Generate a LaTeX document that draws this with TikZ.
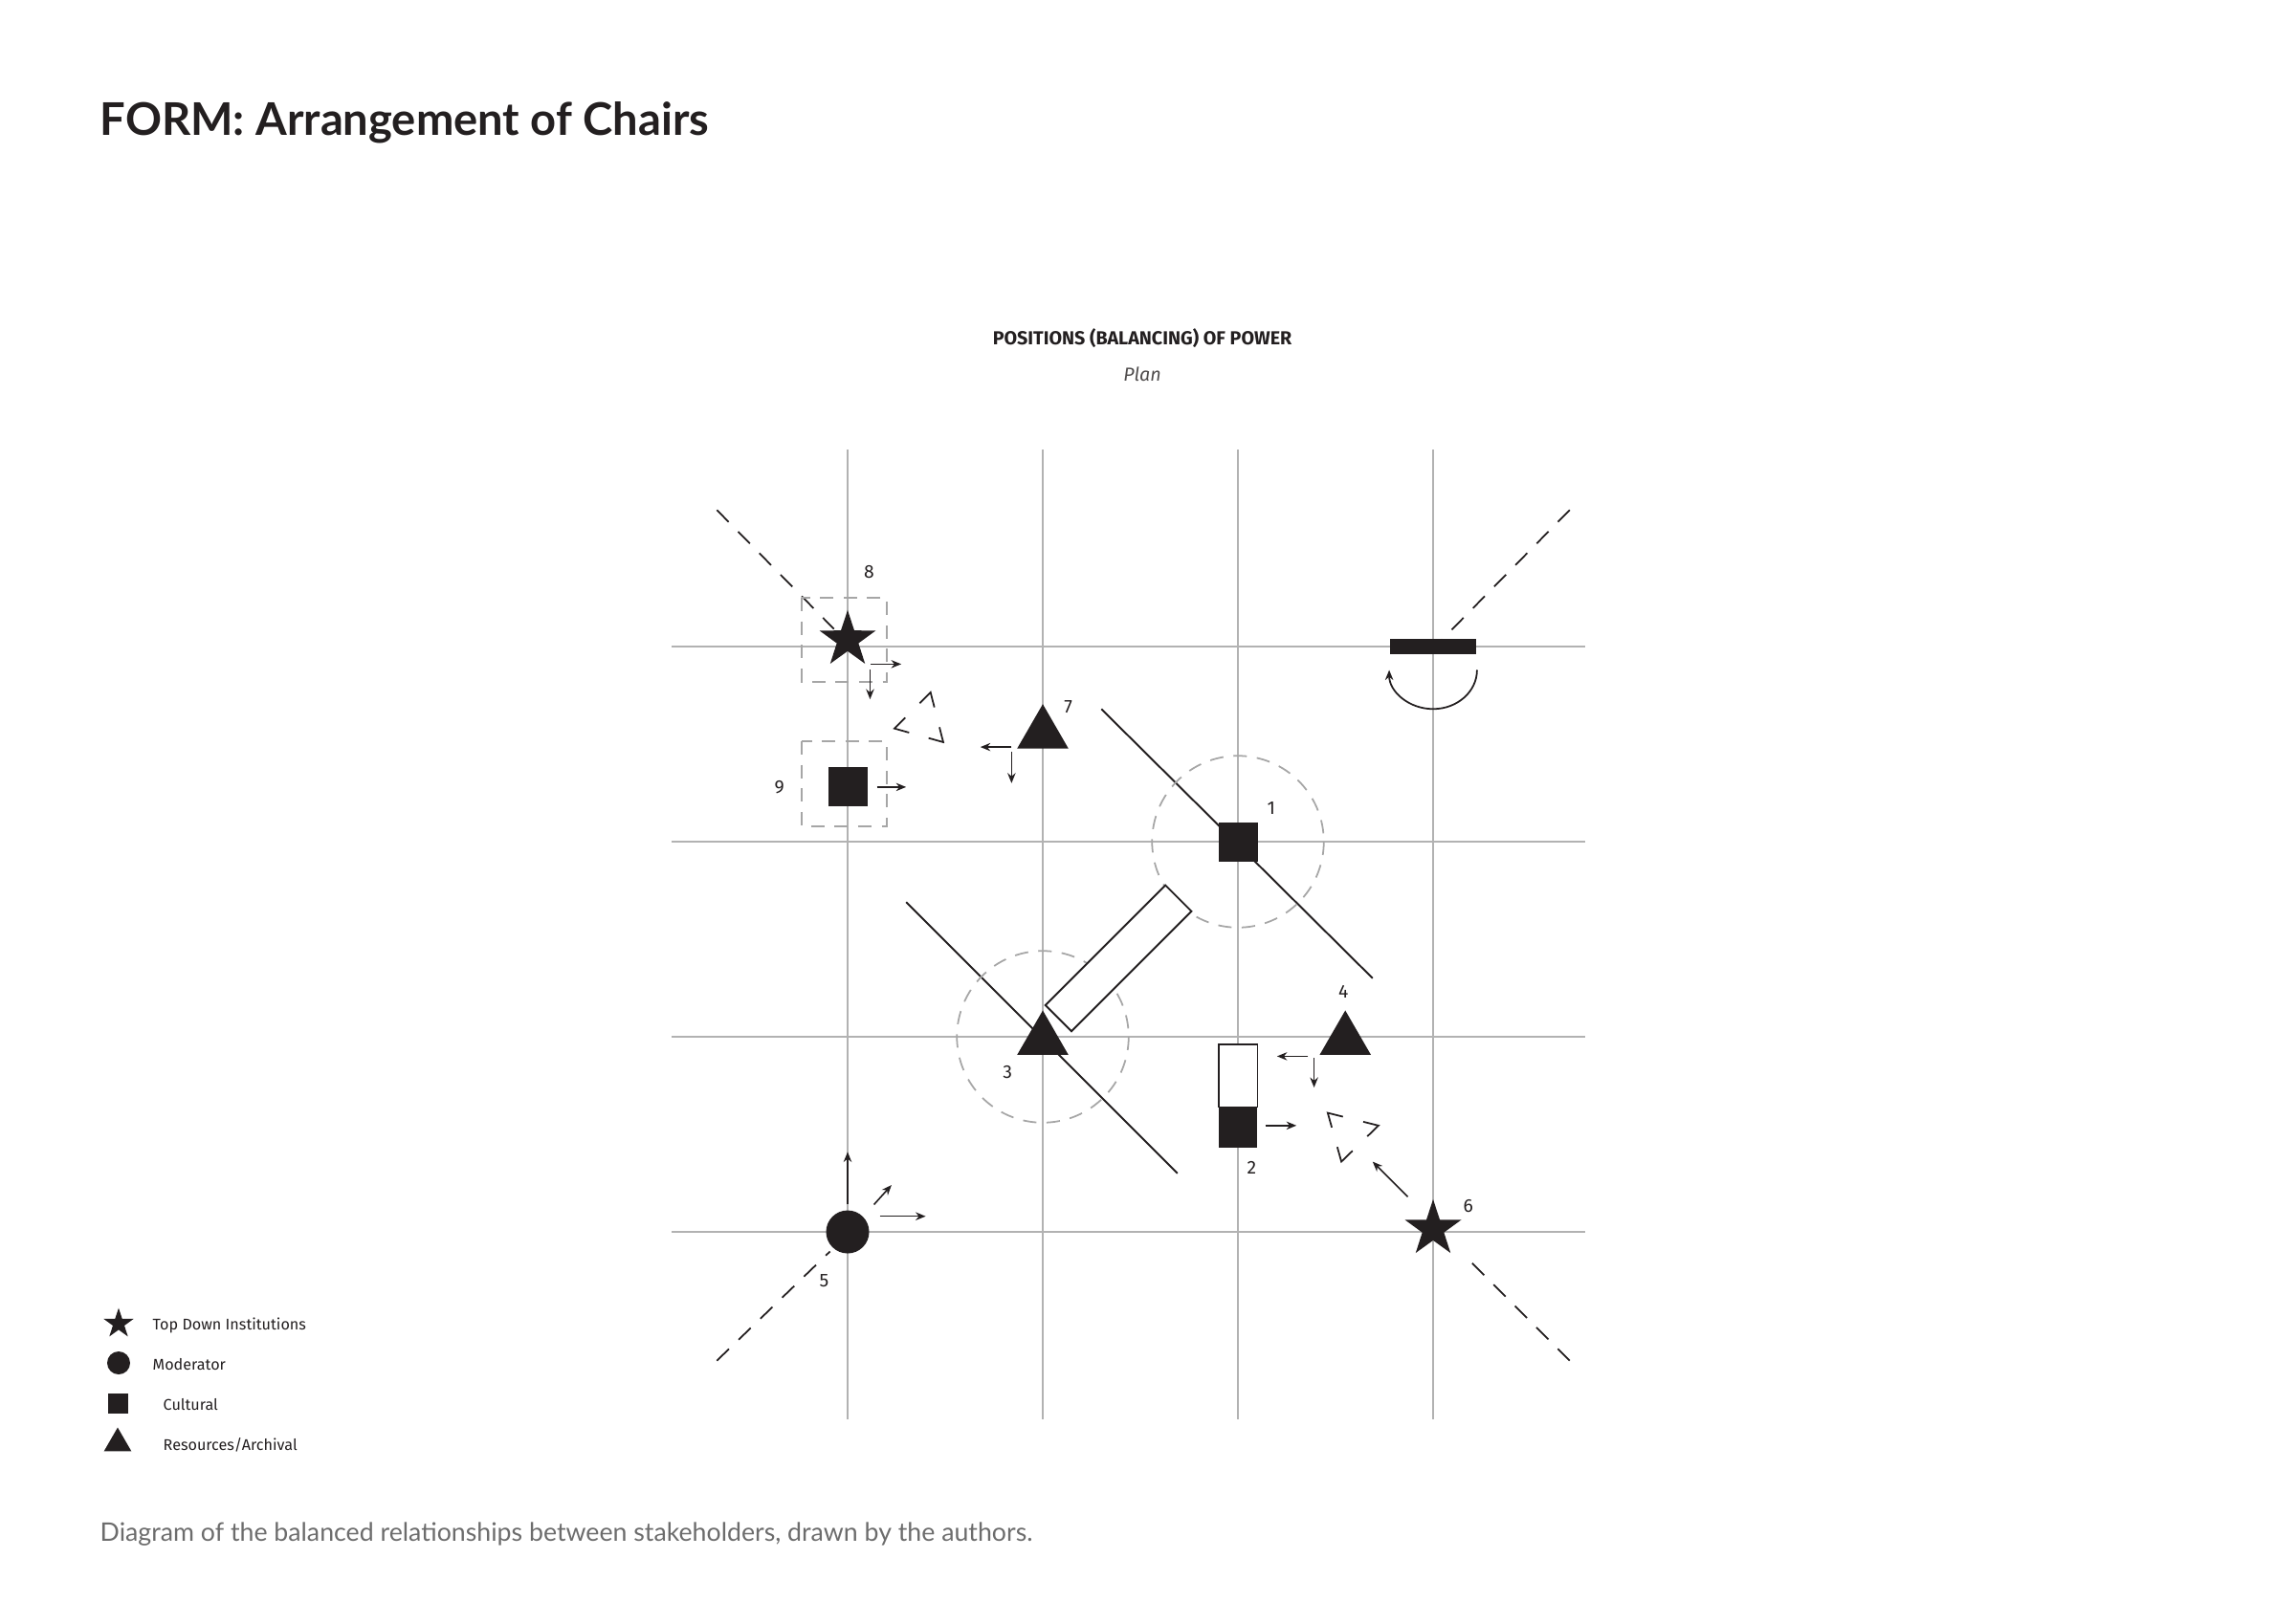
\documentclass[tikz,border=0pt]{standalone}
\usepackage{fontspec}
\setmainfont{Fira Sans}
\newfontfamily\titlefont{Lato}
\usetikzlibrary{shapes.geometric,calc,arrows.meta}
\definecolor{ink}{HTML}{231F20}
\tikzset{
  gridline/.style={draw=gray!60,line width=0.45pt},
  diag/.style={draw=ink,line width=0.5pt,dash pattern=on 5pt off 4pt},
  thinline/.style={draw=ink,line width=0.55pt},
  arr/.style={draw=ink,line width=0.45pt,-{Stealth[length=3pt,width=2.4pt]}},
  dbox/.style={draw=gray!70,line width=0.5pt,dash pattern=on 4pt off 3pt},
  dcirc/.style={draw=gray!70,line width=0.5pt,dash pattern=on 4pt off 3pt},
  starmark/.style={star,star points=5,star point ratio=2.6,fill=ink,inner sep=0,minimum size=0.62cm},
  trimark/.style={regular polygon,regular polygon sides=3,fill=ink,inner sep=0,minimum size=0.62cm},
  sqmark/.style={rectangle,fill=ink,inner sep=0,minimum size=0.41cm},
  num/.style={font=\fontsize{5.5}{6}\selectfont,text=ink,inner sep=0},
  legtext/.style={font=\fontsize{4.6}{5}\selectfont,text=ink,anchor=west,inner sep=0},
}
\newcommand{\chev}[3]{\draw[ink,line width=0.5pt] ($(#1)!0.3!(#2)$) -- (#1) -- ($(#1)!0.3!(#3)$);}
\begin{document}
\begin{tikzpicture}
\useasboundingbox (0,0) rectangle (24,-16.97);
\node[anchor=west,inner sep=0,text=ink] (title) at (1.04,-1.28) {\titlefont\bfseries\fontsize{13.4}{15}\selectfont FORM: Arrangement of Chairs};
\node[inner sep=0,text=ink] (sub) at (11.94,-3.54) {\bfseries\fontsize{5.6}{6}\selectfont POSITIONS (BALANCING) OF POWER};
\node[inner sep=0,text=ink!80] (plan) at (11.94,-3.91) {\itshape\fontsize{5.6}{6}\selectfont Plan};
\node[anchor=west,inner sep=0,text=gray!85!black] (cap) at (1.04,-16.04) {\titlefont\fontsize{7.6}{9}\selectfont Diagram of the balanced relationships between stakeholders, drawn by the authors.};
% legend
\node[star,star points=5,star point ratio=2.6,fill=ink,inner sep=0,minimum size=0.33cm] (l1) at (1.24,-13.84) {};
\node[circle,fill=ink,inner sep=0,minimum size=0.24cm] (l2) at (1.24,-14.25) {};
\node[rectangle,fill=ink,inner sep=0,minimum size=0.21cm] (l3) at (1.23,-14.67) {};
\node[regular polygon,regular polygon sides=3,fill=ink,inner sep=0,minimum size=0.33cm] (l4) at (1.23,-15.09) {};
\node[legtext] (t1) at (1.59,-13.86) {Top Down Institutions};
\node[legtext] (t2) at (1.59,-14.27) {Moderator};
\node[legtext] (t3) at (1.70,-14.69) {Cultural};
\node[legtext] (t4) at (1.70,-15.11) {Resources/Archival};
\begin{scope}[shift={(8.86cm,-6.76cm)},x=2.04cm,y=-2.04cm]
% grid
\foreach \i in {0,1,2,3}{
  \draw[gridline] (\i,-1.01) -- (\i,3.96);
  \draw[gridline] (-0.9,\i) -- (3.78,\i);
}
% dashed diagonals
\draw[diag] (-0.67,-0.70) -- (-0.07,-0.09);
\draw[diag] (3.70,-0.70) -- (3.04,-0.03);
\draw[diag] (-0.67,3.66) -- (-0.09,3.1);
\draw[diag] (3.70,3.66) -- (3.16,3.12);
% long solid lines
\draw[thinline] (1.30,0.32) -- (2.69,1.70);
\draw[thinline] (0.30,1.31) -- (1.69,2.70);
% dashed circles & boxes
\draw[dcirc] (2,1) circle (0.44);
\draw[dcirc] (1,2) circle (0.44);
\draw[dbox] (-0.235,-0.25) rectangle (0.2,0.18);
\draw[dbox] (-0.235,0.485) rectangle (0.2,0.92);
% 8 star
\node[starmark] (s8) at (0,-0.035) {};
\node[num] (n8) at (0.11,-0.38) {8};
\draw[arr] (0.12,0.09) -- (0.275,0.09);
\draw[arr] (0.115,0.12) -- (0.115,0.27);
% chevron triangle A
\coordinate (a1) at (0.425,0.235);
\coordinate (a2) at (0.24,0.42);
\coordinate (a3) at (0.49,0.49);
\chev{a1}{a2}{a3}\chev{a2}{a1}{a3}\chev{a3}{a1}{a2}
% 9 square
\node[sqmark] (q9) at (0,0.72) {};
\node[num] (n9) at (-0.35,0.72) {9};
\draw[arr] (0.15,0.72) -- (0.30,0.72);
% 7 triangle
\node[trimark] (t7) at (1,0.447) {};
\node[num] (n7) at (1.13,0.31) {7};
\draw[arr] (0.84,0.515) -- (0.68,0.515);
\draw[arr] (0.84,0.54) -- (0.84,0.70);
% bar + arc
\fill[ink] (2.78,-0.04) rectangle (3.22,0.04);
\draw[ink,line width=0.5pt,-{Stealth[length=3pt,width=2.4pt]}] (3.225,0.12) arc[start angle=0,end angle=-180,x radius=0.225,y radius=-0.2];
% 1 square
\node[sqmark] (q1) at (2,1) {};
\node[num] (n1) at (2.17,0.83) {1};
% table
\draw[thinline,fill=white] (1.515,1.47) ++(-0.435,0.435) ++(0.067,0.067) coordinate (c1) -- ++(0.615,-0.615) -- ++(-0.134,-0.134) -- ++(-0.615,0.615) -- cycle;
% 3 triangle
\node[trimark] (t3) at (1,2.017) {};
\node[num] (n3) at (0.82,2.18) {3};
% 4 triangle
\node[trimark] (t4) at (2.55,2.017) {};
\node[num] (n4) at (2.54,1.77) {4};
\draw[arr] (2.36,2.10) -- (2.2,2.10);
\draw[arr] (2.39,2.11) -- (2.39,2.26);
% 2 chair
\draw[ink,line width=0.5pt,fill=white] (1.9,2.04) rectangle (2.1,2.36);
\fill[ink] (1.9,2.36) rectangle (2.1,2.57);
\coordinate (r2) at (2,2.3);
\node[num] (n2) at (2.07,2.67) {2};
\draw[arr] (2.14,2.455) -- (2.30,2.455);
% chevron triangle B
\coordinate (b1) at (2.46,2.39);
\coordinate (b2) at (2.72,2.455);
\coordinate (b3) at (2.53,2.64);
\chev{b1}{b2}{b3}\chev{b2}{b1}{b3}\chev{b3}{b1}{b2}
% 6 star
\node[starmark] (s6) at (3,2.985) {};
\node[num] (n6) at (3.18,2.87) {6};
\draw[arr] (2.87,2.82) -- (2.69,2.64);
% 5 circle
\node[circle,fill=ink,inner sep=0,minimum size=0.45cm] (c5) at (0,3) {};
\node[num] (n5) at (-0.12,3.25) {5};
\draw[arr] (0,2.86) -- (0,2.59);
\draw[arr] (0.135,2.86) -- (0.225,2.76);
\draw[arr] (0.165,2.92) -- (0.40,2.92);
\end{scope}
\end{tikzpicture}
\end{document}
